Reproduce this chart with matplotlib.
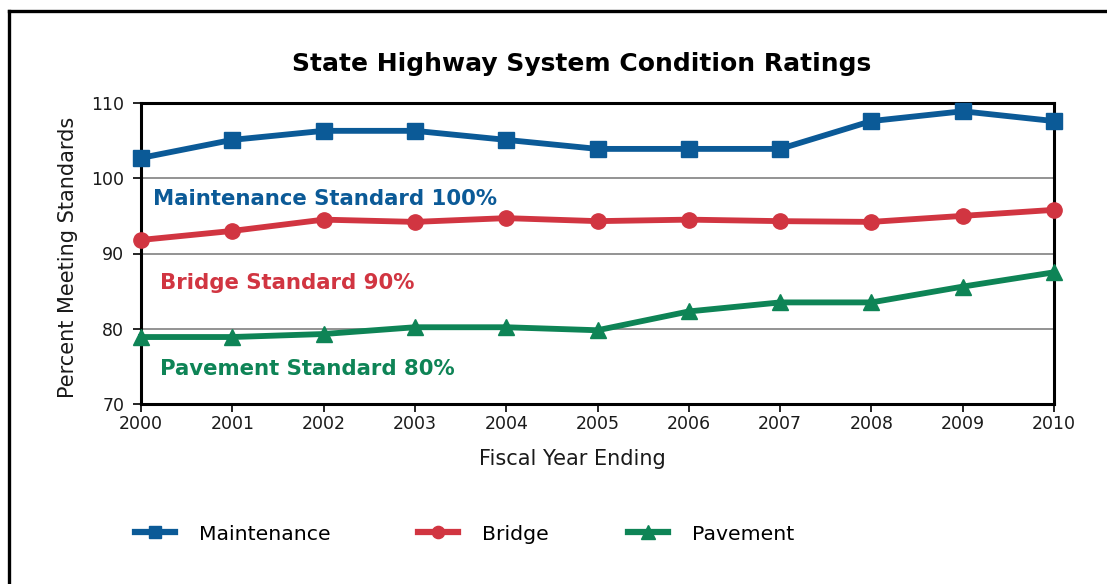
import matplotlib
matplotlib.use("Agg")
import matplotlib.pyplot as plt
from matplotlib.lines import Line2D

years = [2000, 2001, 2002, 2003, 2004, 2005, 2006, 2007, 2008, 2009, 2010]
maintenance = [102.7, 105.1, 106.3, 106.3, 105.1, 103.9, 103.9, 103.9, 107.6, 108.9, 107.6]
bridge = [91.8, 93.0, 94.5, 94.2, 94.7, 94.3, 94.5, 94.3, 94.2, 95.0, 95.8]
pavement = [78.9, 78.9, 79.3, 80.2, 80.2, 79.8, 82.3, 83.5, 83.5, 85.6, 87.5]
series_names = ["Maintenance", "Bridge", "Pavement"]
standard_labels = ["Maintenance Standard 100%", "Bridge Standard 90%", "Pavement Standard 80%"]
yticks = [70, 80, 90, 100, 110]

BLUE = "#0b5a97"
RED = "#d13541"
GREEN = "#0e8456"

plt.rcParams['font.family'] = ['DejaVu Sans']

W, H = 1107, 584
fig = plt.figure(figsize=(W / 100, H / 100), dpi=100)
ax = fig.add_axes([141 / W, 1 - 404 / H, (1054 - 141) / W, (404 - 103) / H])

# outer frame
fig.add_artist(Line2D([9 / W, 9 / W], [0, 1 - 11 / H], color="black", lw=2.4, transform=fig.transFigure))
fig.add_artist(Line2D([9 / W, 1], [1 - 11 / H, 1 - 11 / H], color="black", lw=2.4, transform=fig.transFigure))

l1, = ax.plot(years, maintenance, color=BLUE, lw=4.2, marker="s", markersize=11, clip_on=False, zorder=5)
l2, = ax.plot(years, bridge, color=RED, lw=4.2, marker="o", markersize=11, clip_on=False, zorder=5)
l3, = ax.plot(years, pavement, color=GREEN, lw=4.2, marker="^", markersize=12, clip_on=False, zorder=5)

ax.set_xlim(years[0], years[-1])
ax.set_ylim(yticks[0], yticks[-1])
ax.set_yticks(yticks)
ax.set_xticks(years)
ax.yaxis.grid(True, color="#808080", lw=1.2)
ax.set_axisbelow(True)
for s in ax.spines.values():
    s.set_linewidth(2.2)
    s.set_color("black")
ax.tick_params(axis="both", labelsize=12.5, colors="black", labelcolor="#1a1a1a", width=1.2, length=6)
ax.tick_params(axis="y", pad=6)
ax.tick_params(axis="x", pad=2)

ax.set_ylabel("Percent Meeting Standards", fontsize=15, color="#1a1a1a")
ax.yaxis.set_label_coords((68 - 141) / 913, (404 - 257) / 301)
ax.set_xlabel("Fiscal Year Ending", fontsize=15, color="#1a1a1a")
ax.xaxis.set_label_coords((572 - 141) / 913, (404 - 459) / 301)
ax.xaxis.label.set_va("center")
ax.yaxis.label.set_va("center")

fig.text(582 / W, 1 - 64 / H, "State Highway System Condition Ratings", fontsize=18,
         fontweight="bold", ha="center", va="center", color="black")

ax.text(2000.13, 97.2, standard_labels[0], color=BLUE, fontsize=15.3, fontweight="bold", va="center")
ax.text(2000.21, 86.1, standard_labels[1], color=RED, fontsize=15.3, fontweight="bold", va="center")
ax.text(2000.21, 74.65, standard_labels[2], color=GREEN, fontsize=15.3, fontweight="bold", va="center")

handle_x = [135, 418, 628]
for line, name, hx in zip([l1, l2, l3], series_names, handle_x):
    leg = fig.legend([line], [name], loc="center left", bbox_to_anchor=(hx / W, 1 - 534 / H),
                     frameon=False, fontsize=14.7, handlelength=1.95, handletextpad=1.2,
                     borderpad=0, borderaxespad=0, markerscale=0.8)
    for h in leg.legend_handles:
        h.set_linewidth(4.5)

fig.savefig("out.png", dpi=100, facecolor="white")
